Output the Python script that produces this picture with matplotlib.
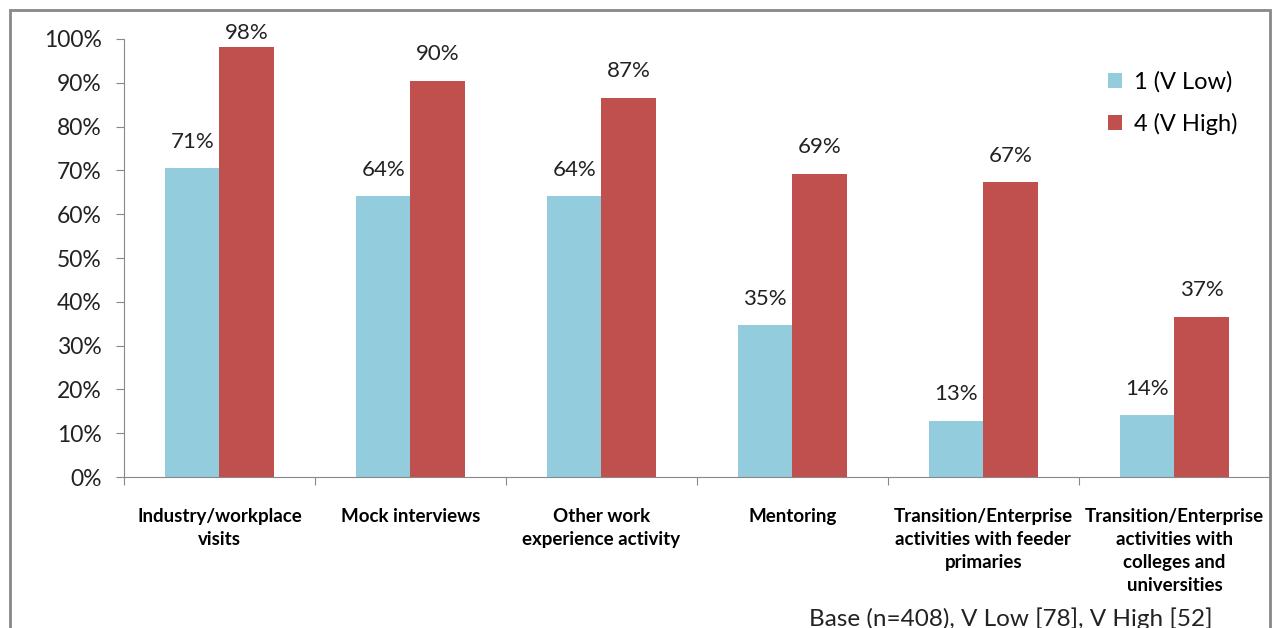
import numpy as np
import matplotlib.pyplot as plt
from matplotlib.patches import Rectangle

plt.rcParams['font.family'] = ['Lato', 'DejaVu Sans']

categories = [
    "Industry/workplace\nvisits",
    "Mock interviews",
    "Other work\nexperience activity",
    "Mentoring",
    "Transition/Enterprise\nactivities with feeder\nprimaries",
    "Transition/Enterprise\nactivities with\ncolleges and\nuniversities",
]
v_low = [70.51, 64.10, 64.10, 34.62, 12.82, 14.10]
v_high = [98.08, 90.38, 86.54, 69.23, 67.31, 36.54]
series_names = ["1 (V Low)", "4 (V High)"]
colors = ["#93CDDD", "#C0504D"]

fig = plt.figure(figsize=(12.86, 6.28), dpi=100)
ax = fig.add_axes([0.0964, 0.2404, 0.8911, 0.6975])

x = np.arange(len(categories))
w = 0.285
b1 = ax.bar(x - w / 2, v_low, w, color=colors[0], label=series_names[0])
b2 = ax.bar(x + w / 2, v_high, w, color=colors[1], label=series_names[1])

for bars in (b1, b2):
    for r in bars:
        h = r.get_height()
        # excel squeezes the label down when it would leave the plot area
        off = 12 if h < 95 else 3
        ax.annotate(f"{h:.0f}%", (r.get_x() + r.get_width() / 2, h),
                    xytext=(0, off), textcoords="offset points", ha="center", va="bottom",
                    fontsize=16, color="#222222")

ax.set_xlim(-0.5, len(categories) - 0.5)
ax.set_ylim(0, 100)
ax.set_yticks(np.arange(0, 101, 10))
ax.set_yticklabels([f"{v}%" for v in range(0, 101, 10)], fontsize=16.5, color="#222222")
ax.set_xticks(np.arange(-0.5, len(categories) - 0.4, 1))
ax.set_xticklabels([])
ax.set_xticks(x, minor=True)
ax.set_xticklabels(categories, minor=True, fontsize=13.5, fontweight="bold", linespacing=1.45, va="top")
ax.tick_params(axis="x", which="minor", length=0, pad=22)
ax.tick_params(axis="x", which="major", length=6, color="#888888")
ax.tick_params(axis="y", length=6, color="#888888", pad=10)

for s in ["top", "right"]:
    ax.spines[s].set_visible(False)
for s in ["left", "bottom"]:
    ax.spines[s].set_color("#888888")

leg = ax.legend(loc="upper left", bbox_to_anchor=(0.84, 0.975), frameon=False,
                fontsize=17, handlelength=0.6, handleheight=0.6, handletextpad=0.5,
                labelspacing=0.85)

fig.text(0.629, 0.003, "Base (n=408), V Low [78], V High [52]", fontsize=17.5, color="#222222")

fig.patches.append(Rectangle((10 / 1286, -0.1), 1260 / 1286, 1.1 - 10 / 628,
                             transform=fig.transFigure, fill=False,
                             edgecolor="#888888", linewidth=2))

fig.savefig("out.png", dpi=100)
